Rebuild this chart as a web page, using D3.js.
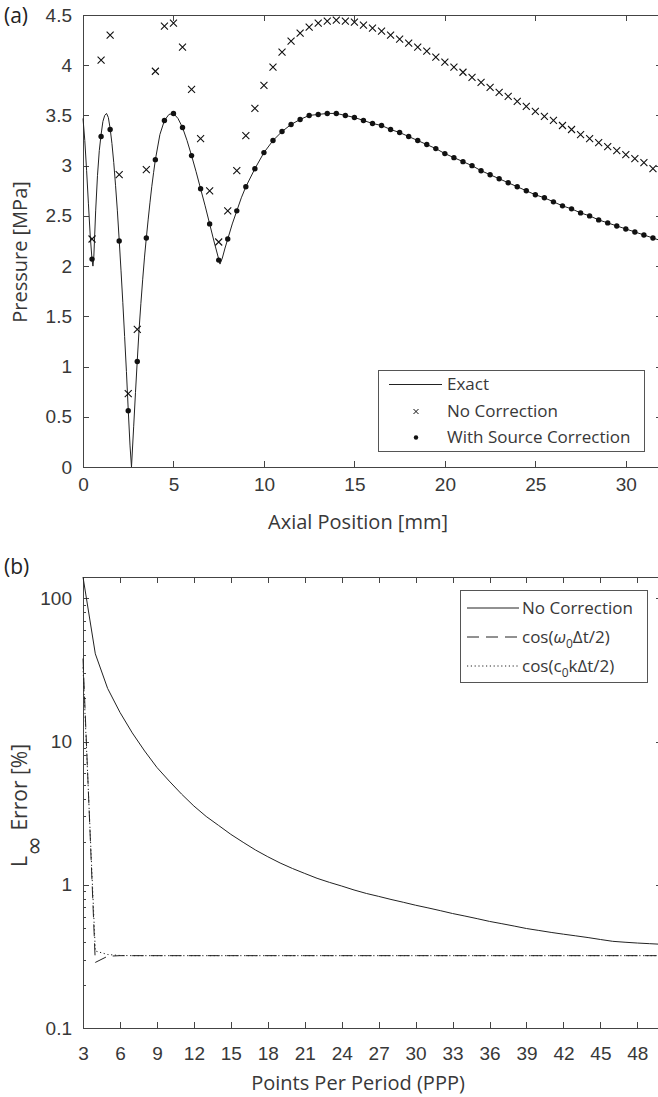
<!DOCTYPE html>
<html>
<head>
<meta charset="utf-8">
<script src="https://cdn.jsdelivr.net/npm/d3@7"></script>
<style>
  body { margin: 0; background: #fff; }
  svg { display: block; font-family: "Open Sans", sans-serif; }
  .axis text { fill: #383838; font-size: 19px; }
  .axis path, .axis line { stroke: #444; shape-rendering: crispEdges; }
</style>
</head>
<body>
<svg id="chart" width="658" height="1097"></svg>
<script>
// ---------- panel (a): on-axis pressure ----------
var exactX = [0, 0.1, 0.2, 0.3, 0.4, 0.5, 0.55, 0.6, 0.7, 0.8, 0.9, 1.0, 1.1, 1.2, 1.3, 1.4, 1.5,
  1.6, 1.7, 1.8, 1.9, 2.0, 2.1, 2.2, 2.3, 2.4, 2.5, 2.6, 2.68, 2.8, 2.9, 3.0, 3.1, 3.2, 3.3, 3.4,
  3.5, 3.6, 3.7, 3.8, 3.9, 4.0, 4.25, 4.5, 4.75, 5.0, 5.25, 5.5, 5.75, 6.0, 6.25, 6.5, 6.75, 7.0,
  7.25, 7.5, 7.57, 7.7, 7.85, 8.0, 8.25, 8.5, 8.75, 9.0, 9.5, 10.0, 10.5, 11.0, 11.5, 12.0, 12.5,
  13.0, 13.5, 14.0, 14.5, 15.0, 15.5, 16.0, 16.5, 17.0, 17.5, 18.0, 18.5, 19.0, 19.5, 20.0, 20.5,
  21.0, 21.5, 22.0, 22.5, 23.0, 23.5, 24.0, 24.5, 25.0, 25.5, 26.0, 26.5, 27.0, 27.5, 28.0, 28.5,
  29.0, 29.5, 30.0, 30.5, 31.0, 31.5, 32.0];
var exactY = [3.47, 3.25, 2.95, 2.62, 2.30, 2.06, 2.0, 2.1, 2.55, 2.9, 3.15, 3.31, 3.44, 3.50, 3.52, 3.48, 3.37,
  3.22, 3.03, 2.80, 2.55, 2.26, 1.96, 1.64, 1.30, 0.95, 0.57, 0.21, 0.0, 0.40, 0.74, 1.06, 1.37, 1.63, 1.87, 2.09,
  2.28, 2.46, 2.63, 2.79, 2.93, 3.06, 3.31, 3.45, 3.51, 3.52, 3.47, 3.38, 3.25, 3.10, 2.94, 2.77, 2.60, 2.42,
  2.24, 2.07, 2.02, 2.08, 2.18, 2.27, 2.42, 2.55, 2.68, 2.79, 2.97, 3.13, 3.25, 3.34, 3.41, 3.46, 3.50,
  3.51, 3.52, 3.52, 3.50, 3.48, 3.45, 3.42, 3.40, 3.36, 3.33, 3.29, 3.25, 3.21, 3.17, 3.12, 3.08,
  3.04, 3.00, 2.95, 2.91, 2.87, 2.83, 2.79, 2.75, 2.71, 2.68, 2.64, 2.60, 2.57, 2.53, 2.50, 2.46,
  2.43, 2.40, 2.37, 2.34, 2.31, 2.28, 2.25];

var markerX = [0.5, 1.0, 1.5, 2.0, 2.5, 3.0, 3.5, 4.0, 4.5, 5.0, 5.5, 6.0, 6.5, 7.0, 7.5, 8.0,
  8.5, 9.0, 9.5, 10.0, 10.5, 11.0, 11.5, 12.0, 12.5, 13.0, 13.5, 14.0, 14.5, 15.0, 15.5, 16.0,
  16.5, 17.0, 17.5, 18.0, 18.5, 19.0, 19.5, 20.0, 20.5, 21.0, 21.5, 22.0, 22.5, 23.0, 23.5, 24.0,
  24.5, 25.0, 25.5, 26.0, 26.5, 27.0, 27.5, 28.0, 28.5, 29.0, 29.5, 30.0, 30.5, 31.0, 31.5];
var noCorrY = [2.27, 4.05, 4.30, 2.91, 0.73, 1.37, 2.96, 3.94, 4.39, 4.42, 4.18, 3.76, 3.27, 2.75, 2.24, 2.55,
  2.95, 3.30, 3.57, 3.80, 3.98, 4.13, 4.24, 4.32, 4.38, 4.42, 4.44, 4.45, 4.44, 4.43, 4.40, 4.37,
  4.34, 4.30, 4.26, 4.22, 4.18, 4.14, 4.08, 4.03, 3.98, 3.93, 3.88, 3.83, 3.78, 3.73, 3.69, 3.64,
  3.59, 3.54, 3.49, 3.45, 3.40, 3.36, 3.31, 3.27, 3.23, 3.19, 3.15, 3.11, 3.07, 3.03, 2.97];
var sourceCorrY = [2.07, 3.29, 3.36, 2.25, 0.56, 1.05, 2.28, 3.06, 3.45, 3.52, 3.38, 3.10, 2.77, 2.42, 2.06, 2.27,
  2.55, 2.79, 2.97, 3.13, 3.25, 3.34, 3.41, 3.46, 3.50, 3.51, 3.52, 3.52, 3.50, 3.48, 3.45, 3.42,
  3.40, 3.36, 3.33, 3.29, 3.25, 3.21, 3.17, 3.12, 3.08, 3.04, 3.00, 2.95, 2.91, 2.87, 2.83, 2.79,
  2.75, 2.71, 2.68, 2.64, 2.60, 2.57, 2.53, 2.50, 2.46, 2.43, 2.40, 2.37, 2.34, 2.31, 2.28];

var ticksAX = [0, 5, 10, 15, 20, 25, 30];
var ticksAY = [0, 0.5, 1, 1.5, 2, 2.5, 3, 3.5, 4, 4.5];
var legendA = ["Exact", "No Correction", "With Source Correction"];

// ---------- panel (b): error vs points per period ----------
var ppp = [3, 4, 5, 6, 7, 8, 9, 10, 11, 12, 13, 14, 15, 16, 17, 18, 19, 20, 21, 22, 23, 24, 25, 26,
  27, 28, 29, 30, 31, 32, 33, 34, 35, 36, 37, 38, 39, 40, 41, 42, 43, 44, 45, 46, 47, 48, 49, 50];
var errNoCorr = [141, 41, 23.5, 16, 11.5, 8.6, 6.6, 5.3, 4.3, 3.55, 3.0, 2.6, 2.25, 1.98, 1.75, 1.57,
  1.42, 1.30, 1.20, 1.11, 1.04, 0.98, 0.92, 0.87, 0.83, 0.79, 0.755, 0.72, 0.69, 0.66, 0.63, 0.605,
  0.58, 0.555, 0.535, 0.515, 0.495, 0.48, 0.465, 0.452, 0.44, 0.428, 0.415, 0.403, 0.397, 0.392, 0.388, 0.384];
var errCosW = [38, 0.287, 0.317, 0.32, 0.32, 0.32, 0.32, 0.32, 0.32, 0.32, 0.32, 0.32, 0.32, 0.32, 0.32, 0.32,
  0.32, 0.32, 0.32, 0.32, 0.32, 0.32, 0.32, 0.32, 0.32, 0.32, 0.32, 0.32, 0.32, 0.32, 0.32, 0.32,
  0.32, 0.32, 0.32, 0.32, 0.32, 0.32, 0.32, 0.32, 0.32, 0.32, 0.32, 0.32, 0.32, 0.32, 0.32, 0.32];
var errCosK = [33, 0.345, 0.326, 0.321, 0.32, 0.32, 0.32, 0.32, 0.32, 0.32, 0.32, 0.32, 0.32, 0.32, 0.32, 0.32,
  0.32, 0.32, 0.32, 0.32, 0.32, 0.32, 0.32, 0.32, 0.32, 0.32, 0.32, 0.32, 0.32, 0.32, 0.32, 0.32,
  0.32, 0.32, 0.32, 0.32, 0.32, 0.32, 0.32, 0.32, 0.32, 0.32, 0.32, 0.32, 0.32, 0.32, 0.32, 0.32];

var ticksBX = [3, 6, 9, 12, 15, 18, 21, 24, 27, 30, 33, 36, 39, 42, 45, 48];
var ticksBY = [0.1, 1, 10, 100];
var minorBY = [0.2, 0.3, 0.4, 0.5, 0.6, 0.7, 0.8, 0.9, 2, 3, 4, 5, 6, 7, 8, 9, 20, 30, 40, 50, 60, 70, 80, 90];

var svg = d3.select("#chart");
var ink = "#222";
var txt = "#383838";

// frame with inside ticks on all four sides
function drawFrame(x, y, xt, yt, xPad, opts) {
  var x0 = x.range()[0], x1 = x.range()[1], y0 = y.range()[0], y1 = y.range()[1];
  svg.append("g").attr("class", "axis")
    .attr("transform", "translate(0," + y0 + ")")
    .call(d3.axisBottom(x).tickValues(xt).tickSizeInner(-6).tickSizeOuter(0).tickPadding(xPad));
  svg.append("g").attr("class", "axis")
    .attr("transform", "translate(0," + y1 + ")")
    .call(d3.axisTop(x).tickValues(xt).tickSizeInner(-6).tickSizeOuter(0).tickFormat(""));
  svg.append("g").attr("class", "axis")
    .attr("transform", "translate(" + x0 + ",0)")
    .call(d3.axisLeft(y).tickValues(yt).tickSizeInner(-6).tickSizeOuter(0).tickPadding(11)
      .tickFormat(opts.fmt));
  svg.append("g").attr("class", "axis")
    .attr("transform", "translate(" + x1 + ",0)")
    .call(d3.axisRight(y).tickValues(yt).tickSizeInner(-6).tickSizeOuter(0).tickFormat(""));
  if (opts.minor) {
    svg.append("g").attr("class", "axis")
      .attr("transform", "translate(" + x0 + ",0)")
      .call(d3.axisLeft(y).tickValues(opts.minor).tickSizeInner(-3).tickSizeOuter(0).tickFormat(""))
      .select(".domain").remove();
    svg.append("g").attr("class", "axis")
      .attr("transform", "translate(" + x1 + ",0)")
      .call(d3.axisRight(y).tickValues(opts.minor).tickSizeInner(-3).tickSizeOuter(0).tickFormat(""))
      .select(".domain").remove();
  }
}

// ================= (a) =================
var xA = d3.scaleLinear().domain([0, 32]).range([83, 662]);
var yA = d3.scaleLinear().domain([0, 4.5]).range([467, 15]);

drawFrame(xA, yA, ticksAX, ticksAY, 10.5, {fmt: d3.format("")});

var exactPts = exactX.map(function(v, i) { return [v, exactY[i]]; });
svg.append("path")
  .datum(exactPts)
  .attr("fill", "none").attr("stroke", ink).attr("stroke-width", 1)
  .attr("d", d3.line().x(function(d) { return xA(d[0]); }).y(function(d) { return yA(d[1]); }));

var cross = "M-3.5,-3.5L3.5,3.5M-3.5,3.5L3.5,-3.5";
svg.append("g").selectAll("path")
  .data(markerX)
  .join("path")
  .attr("d", cross)
  .attr("transform", function(d, i) { return "translate(" + xA(d) + "," + yA(noCorrY[i]) + ")"; })
  .attr("stroke", "#111").attr("stroke-width", 1.1).attr("fill", "none");

svg.append("g").selectAll("circle")
  .data(markerX)
  .join("circle")
  .attr("cx", function(d) { return xA(d); })
  .attr("cy", function(d, i) { return yA(sourceCorrY[i]); })
  .attr("r", 2.7)
  .attr("fill", "#111");

// legend (a)
var legA = svg.append("g");
legA.append("rect").attr("x", 378.5).attr("y", 370.5).attr("width", 266).attr("height", 81)
  .attr("fill", "#fff").attr("stroke", "#555").attr("stroke-width", 1);
var rowA = [384.5, 411.5, 437.5];
legA.append("line").attr("x1", 389).attr("x2", 442).attr("y1", rowA[0]).attr("y2", rowA[0])
  .attr("stroke", ink).attr("stroke-width", 1);
legA.append("path").attr("d", "M-2.5,-2.5L2.5,2.5M-2.5,2.5L2.5,-2.5")
  .attr("transform", "translate(416," + rowA[1] + ")").attr("stroke", "#111").attr("fill", "none");
legA.append("circle").attr("cx", 416).attr("cy", rowA[2]).attr("r", 2.2).attr("fill", "#111");
legA.selectAll("text").data(legendA).join("text")
  .attr("x", 447).attr("y", function(d, i) { return rowA[i]; })
  .attr("dy", "0.35em").attr("font-size", 17).attr("fill", txt)
  .text(function(d) { return d; });

// titles (a)
svg.append("text").attr("x", 4).attr("y", 23).attr("font-size", 21).attr("fill", "#222").text("(a)");
svg.append("text").attr("x", 358).attr("y", 529).attr("text-anchor", "middle")
  .attr("font-size", 20).attr("fill", txt).text("Axial Position [mm]");
svg.append("text").attr("transform", "translate(27,252) rotate(-90)").attr("text-anchor", "middle")
  .attr("font-size", 20).attr("fill", txt).text("Pressure [MPa]");

// ================= (b) =================
var xB = d3.scaleLinear().domain([3, 50]).range([83, 662]);
var yB = d3.scaleLog().domain([0.1, 141]).range([1028, 577]);

drawFrame(xB, yB, ticksBX, ticksBY, 18.5, {fmt: function(d) { return String(d); }, minor: minorBY});

var lineB = d3.line().x(function(d) { return xB(d[0]); }).y(function(d) { return yB(d[1]); });
function series(vals) { return ppp.map(function(p, i) { return [p, vals[i]]; }); }

svg.append("path").datum(series(errNoCorr)).attr("d", lineB)
  .attr("fill", "none").attr("stroke", ink).attr("stroke-width", 1);
svg.append("path").datum(series(errCosW)).attr("d", lineB)
  .attr("fill", "none").attr("stroke", ink).attr("stroke-width", 1).attr("stroke-dasharray", "12,7");
svg.append("path").datum(series(errCosK)).attr("d", lineB)
  .attr("fill", "none").attr("stroke", ink).attr("stroke-width", 1).attr("stroke-dasharray", "1.2,2.6");

// legend (b)
var legB = svg.append("g");
legB.append("rect").attr("x", 460.5).attr("y", 590.5).attr("width", 187).attr("height", 92)
  .attr("fill", "#fff").attr("stroke", "#555").attr("stroke-width", 1);
var rowB = [608, 637, 666];
var dashB = [null, "12,7", "1.2,2.6"];
rowB.forEach(function(ry, i) {
  legB.append("line").attr("x1", 467).attr("x2", 519).attr("y1", ry).attr("y2", ry)
    .attr("stroke", ink).attr("stroke-width", 1).attr("stroke-dasharray", dashB[i]);
});
var tB = legB.append("g").attr("font-size", 17).attr("fill", txt);
tB.append("text").attr("x", 522).attr("y", rowB[0]).attr("dy", "0.35em").text("No Correction");
var t2 = tB.append("text").attr("x", 522).attr("y", rowB[1]).attr("dy", "0.35em");
t2.append("tspan").text("cos(");
t2.append("tspan").attr("font-style", "italic").text("ω");
t2.append("tspan").attr("font-size", 12).attr("dy", 5).text("0");
t2.append("tspan").attr("dy", -5).text("Δt/2)");
var t3 = tB.append("text").attr("x", 522).attr("y", rowB[2]).attr("dy", "0.35em");
t3.append("tspan").text("cos(c");
t3.append("tspan").attr("font-size", 12).attr("dy", 5).text("0");
t3.append("tspan").attr("dy", -5).text("kΔt/2)");

// titles (b)
svg.append("text").attr("x", 4).attr("y", 574).attr("font-size", 21).attr("fill", "#222").text("(b)");
svg.append("text").attr("x", 358).attr("y", 1090).attr("text-anchor", "middle")
  .attr("font-size", 20).attr("fill", txt).text("Points Per Period (PPP)");
var yt = svg.append("text").attr("transform", "translate(27,867) rotate(-90)")
  .attr("font-size", 21).attr("fill", txt);
yt.append("tspan").text("L");
yt.append("tspan").attr("font-family", "DejaVu Sans").attr("font-size", 24).attr("dy", 15).text("∞");
yt.append("tspan").attr("dy", -15).text(" Error [%]");
</script>
</body>
</html>
